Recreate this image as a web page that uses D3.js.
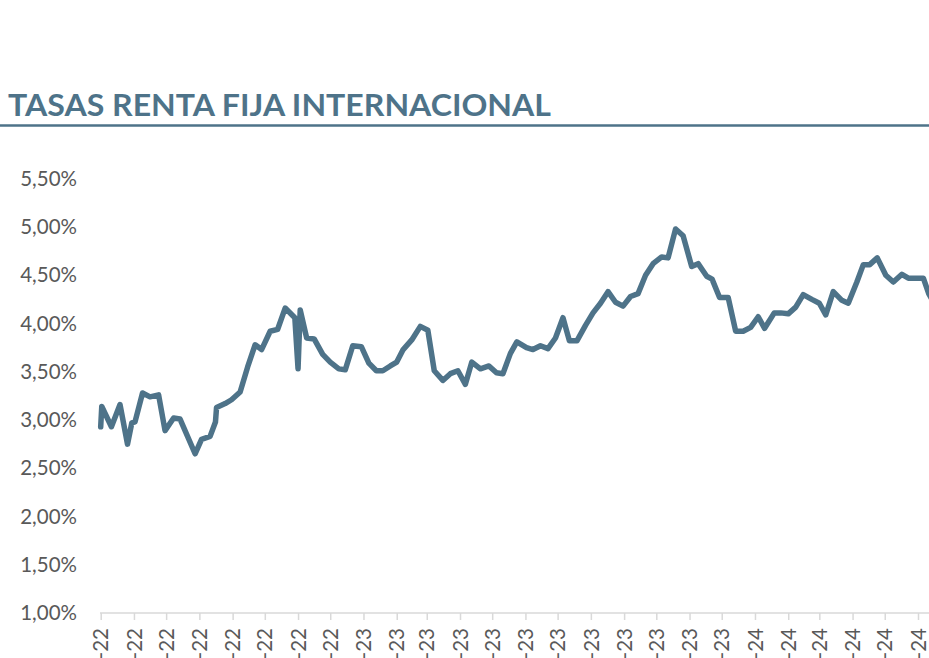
<!DOCTYPE html>
<html><head><meta charset="utf-8">
<script src="https://cdn.jsdelivr.net/npm/d3@7"></script>
<style>body{margin:0;background:#fff;overflow:hidden}</style>
</head><body><div id="chart"></div>
<script>
const chartTitle = "TASAS RENTA FIJA INTERNACIONAL";
const dates = ["2022-05-01","2022-05-02","2022-05-11","2022-05-19","2022-05-26","2022-05-30","2022-06-02","2022-06-09","2022-06-16","2022-06-24","2022-06-30","2022-07-08","2022-07-14","2022-07-28","2022-08-03","2022-08-11","2022-08-16","2022-08-17","2022-08-25","2022-08-31","2022-09-08","2022-09-15","2022-09-22","2022-09-28","2022-10-06","2022-10-13","2022-10-20","2022-10-29","2022-11-01","2022-11-03","2022-11-09","2022-11-16","2022-11-24","2022-12-01","2022-12-09","2022-12-15","2022-12-22","2022-12-30","2023-01-06","2023-01-13","2023-01-19","2023-01-26","2023-02-01","2023-02-07","2023-02-15","2023-02-23","2023-03-02","2023-03-08","2023-03-16","2023-03-23","2023-03-30","2023-04-06","2023-04-12","2023-04-20","2023-04-28","2023-05-05","2023-05-11","2023-05-18","2023-05-24","2023-06-02","2023-06-08","2023-06-15","2023-06-22","2023-06-29","2023-07-06","2023-07-12","2023-07-19","2023-07-27","2023-08-03","2023-08-10","2023-08-17","2023-08-24","2023-08-31","2023-09-07","2023-09-14","2023-09-21","2023-09-28","2023-10-06","2023-10-12","2023-10-19","2023-10-26","2023-11-03","2023-11-09","2023-11-17","2023-11-22","2023-11-29","2023-12-07","2023-12-14","2023-12-21","2023-12-28","2024-01-04","2024-01-10","2024-01-19","2024-01-25","2024-02-01","2024-02-08","2024-02-15","2024-02-23","2024-03-01","2024-03-07","2024-03-14","2024-03-22","2024-03-28","2024-04-05","2024-04-11","2024-04-17","2024-04-24","2024-05-02","2024-05-09","2024-05-17","2024-05-23","2024-05-29","2024-06-06","2024-06-11","2024-06-14"];
const rates = [2.93,3.14,2.93,3.16,2.75,2.97,2.98,3.28,3.24,3.26,2.89,3.02,3.01,2.65,2.80,2.83,2.98,3.13,3.17,3.21,3.29,3.55,3.78,3.73,3.92,3.94,4.16,4.06,3.53,4.14,3.85,3.84,3.68,3.60,3.53,3.52,3.77,3.76,3.59,3.51,3.51,3.56,3.60,3.73,3.83,3.97,3.93,3.51,3.41,3.48,3.51,3.37,3.60,3.53,3.56,3.49,3.48,3.69,3.81,3.75,3.73,3.77,3.74,3.85,4.06,3.82,3.82,3.98,4.11,4.21,4.33,4.22,4.18,4.28,4.31,4.50,4.62,4.69,4.68,4.98,4.91,4.59,4.62,4.49,4.46,4.27,4.27,3.92,3.92,3.96,4.07,3.95,4.11,4.11,4.10,4.17,4.30,4.25,4.21,4.09,4.33,4.24,4.21,4.43,4.61,4.61,4.68,4.50,4.43,4.51,4.47,4.47,4.47,4.31,4.25];
const yTicks = [1.0,1.5,2.0,2.5,3.0,3.5,4.0,4.5,5.0,5.5];
const tickMonths = ["2022-05-01","2022-06-01","2022-07-01","2022-08-01","2022-09-01","2022-10-01","2022-11-01","2022-12-01","2023-01-01","2023-02-01","2023-03-01","2023-04-01","2023-05-01","2023-06-01","2023-07-01","2023-08-01","2023-09-01","2023-10-01","2023-11-01","2023-12-01","2024-01-01","2024-02-01","2024-03-01","2024-04-01","2024-05-01","2024-06-01"];
const tickLabels = ["may-22","jun-22","jul-22","ago-22","sep-22","oct-22","nov-22","dic-22","ene-23","feb-23","mar-23","abr-23","may-23","jun-23","jul-23","ago-23","sep-23","oct-23","nov-23","dic-23","ene-24","feb-24","mar-24","abr-24","may-24","jun-24"];

const W = 929, H = 658;
const parse = d3.timeParse("%Y-%m-%d");
const data = dates.map((d,i)=>({date:parse(d), v:rates[i]}));
const svg = d3.select("#chart").append("svg").attr("width",W).attr("height",H);

const x = d3.scaleTime().domain([parse("2022-05-01"), parse("2024-06-01")]).range([100.7, 918]);
const y = d3.scaleLinear().domain([1, 5.5]).range([613, 178.75]);

// title
svg.append("text").attr("x",8).attr("y",116)
  .attr("font-family","Lato, 'Open Sans', sans-serif").attr("font-weight","bold")
  .attr("font-size",31).attr("fill","#4e7389")
  .attr("textLength",543).attr("lengthAdjust","spacingAndGlyphs")
  .text(chartTitle);
svg.append("line").attr("x1",0).attr("x2",W).attr("y1",125.5).attr("y2",125.5)
  .attr("stroke","#4e7389").attr("stroke-width",2.5);

// y axis
const yAxis = d3.axisLeft(y).tickValues(yTicks).tickSize(0).tickPadding(0)
  .tickFormat(d => d3.format(".2f")(d).replace(".",",") + "%");
const gy = svg.append("g").attr("transform","translate(77,0)").call(yAxis);
gy.select(".domain").remove();
gy.selectAll("text").attr("font-family","Lato, 'Open Sans', sans-serif").attr("font-size",20.5).attr("fill","#595959");

// x axis
const xAxis = d3.axisBottom(x).tickValues(tickMonths.map(parse)).tickSize(7).tickPadding(8)
  .tickFormat((d,i)=>tickLabels[i]);
const gx = svg.append("g").attr("transform","translate(0,613)").call(xAxis);
gx.select(".domain").attr("d", `M100,0H${W}`).attr("stroke","#d9d9d9").attr("stroke-width",1.5);
gx.selectAll(".tick line").attr("stroke","#d9d9d9").attr("stroke-width",1.5);
gx.selectAll(".tick text")
  .attr("font-family","Lato, 'Open Sans', sans-serif").attr("font-size",20.5).attr("fill","#595959")
  .attr("transform","rotate(-90)").attr("text-anchor","end")
  .attr("x",-15).attr("y",0).attr("dy","0.35em");

// line
const line = d3.line().x(d=>x(d.date)).y(d=>y(d.v));
svg.append("path").datum(data).attr("d",line)
  .attr("fill","none").attr("stroke","#4e7389").attr("stroke-width",5.5)
  .attr("stroke-linejoin","round").attr("stroke-linecap","round");
</script></body></html>
